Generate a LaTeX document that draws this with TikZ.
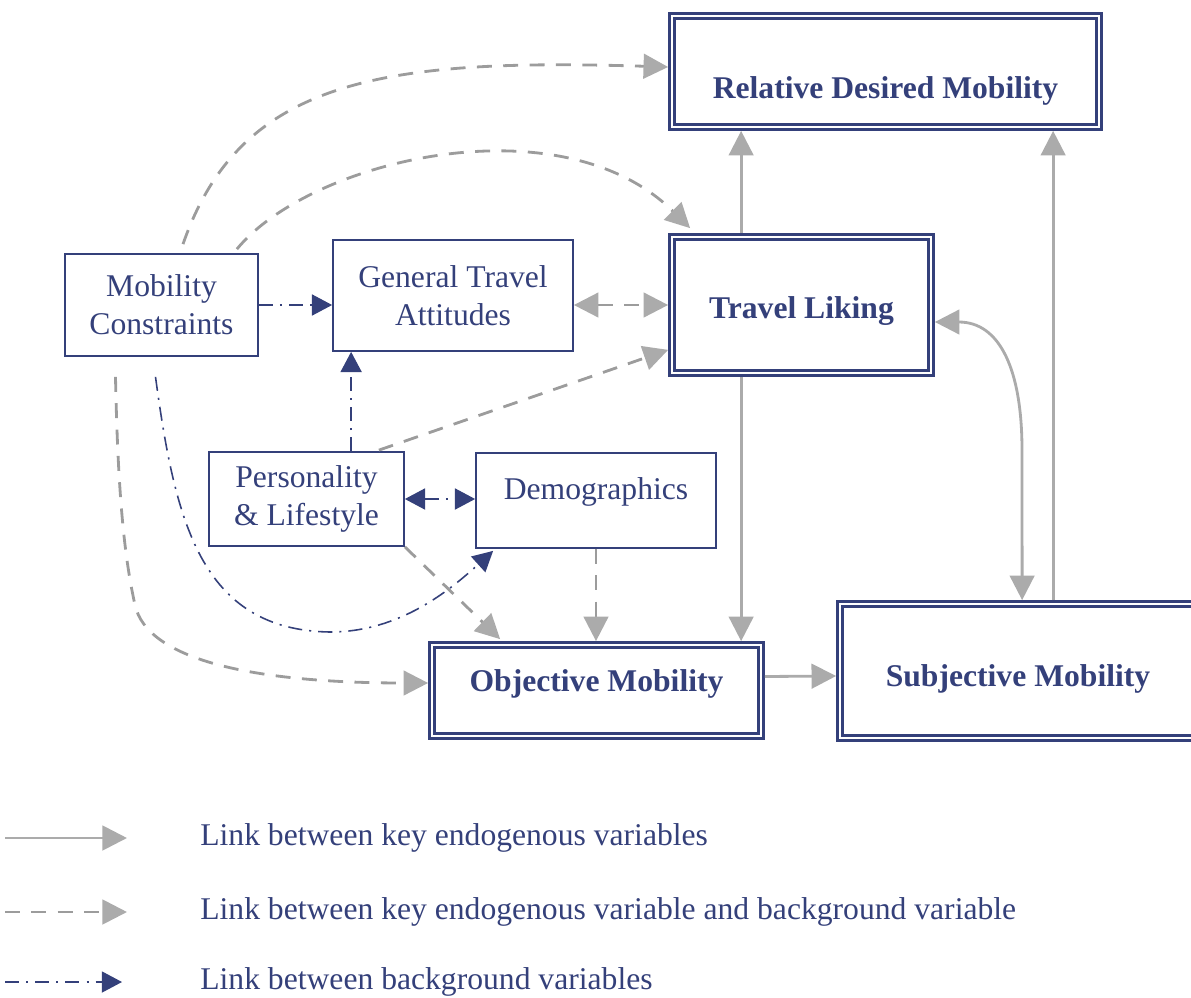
\documentclass[tikz,border=0pt]{standalone}
\usepackage{fontspec}
\setmainfont{Liberation Serif}
\usetikzlibrary{arrows.meta, calc}
\definecolor{navy}{HTML}{34407A}
\definecolor{keygray}{HTML}{ABABAB}
\definecolor{dashgray}{HTML}{9C9C9C}

\begin{document}
\begin{tikzpicture}[x=0.02cm, y=-0.02cm]
     % Define styles
     \tikzstyle{sbox} = [draw=navy, line width=1pt, inner sep=0pt, align=center, text=navy, font=\fontsize{18}{21.5}\selectfont]
     \tikzstyle{dbox} = [draw=navy, line width=1.3pt, double=white, double distance=1.6pt, outer sep=2.2pt, inner sep=0pt, text=navy, font=\fontsize{18}{21.5}\selectfont\bfseries]
     \tikzstyle{keylink} = [keygray, line width=1.6pt, >={Triangle[length=14pt, width=14pt]}, ->]
     \tikzstyle{mixlink} = [dashgray, line width=1.6pt, dash pattern=on 8.5pt off 6.5pt, >={Triangle[length=14pt, width=14pt, color=keygray]}, ->]
     \tikzstyle{bglink} = [navy, line width=0.9pt, dash pattern=on 8pt off 4pt on 1.2pt off 4pt, >={Triangle[length=11.5pt, width=12pt]}, ->]
     \tikzstyle{legendtext} = [text=navy, inner sep=0pt, font=\fontsize{18}{21.5}\selectfont]

     \useasboundingbox (0,0) rectangle (1191,998);
     \clip (0,0) rectangle (1191,998);

     % Key endogenous variables
     \node[dbox, minimum width=427*0.02cm, minimum height=111*0.02cm, text height=34.8pt, text depth=4pt] (RDM) at (885.5,71.5) {Relative Desired Mobility};
     \node[dbox, minimum width=259*0.02cm, minimum height=136*0.02cm, text height=19.4pt, text depth=4pt] (TL) at (801.5,305) {Travel Liking};
     \node[dbox, minimum width=329*0.02cm, minimum height=91*0.02cm, text height=13pt, text depth=11.8pt] (OM) at (596.5,690.5) {Objective Mobility};
     \node[dbox, minimum width=356*0.02cm, minimum height=134*0.02cm, text height=21.6pt, text depth=4pt] (SM) at (1018,671) {Subjective Mobility};

     % Background variables
     \node[sbox, minimum width=193*0.02cm, minimum height=102*0.02cm] (MC) at (161.5,305) {Mobility\\Constraints};
     \node[sbox, minimum width=240*0.02cm, minimum height=111*0.02cm] (GTA) at (453,295.5) {General Travel\\Attitudes};
     \node[sbox, minimum width=195*0.02cm, minimum height=94*0.02cm] (PL) at (306.5,499) {Personality\\\& Lifestyle};
     \node[sbox, minimum width=240*0.02cm, minimum height=95*0.02cm, text height=13pt, text depth=14pt] (DEM) at (596,500.5) {Demographics};

     % Links between key endogenous variables
     \draw[keylink] ($(TL.north west)+(73,0)$) -- ($(RDM.south west)+(73,0)$);
     \draw[keylink] ($(SM.north west)+(217,0)$) -- ($(RDM.south west)+(385,0)$);
     \draw[keylink] ($(TL.south west)+(73,0)$) -- ($(OM.north west)+(313,0)$);
     \draw[keylink] ($(OM.east)+(0,-14)$) -- ($(SM.west)+(0,5)$);
     \draw[keylink, <->] ($(TL.east)+(0,17)$) .. controls (1000,322) and (1022,370) .. (1022,450) -- ($(SM.north west)+(186,0)$);

     % Links between key endogenous and background variables
     \draw[mixlink] ($(MC.north)+(21.5,-9)$) .. controls (240,80) and (380,58) .. ($(RDM.west)+(0,-4.5)$);
     \draw[mixlink] ($(MC.north east)+(-22,-4)$) .. controls (310,160) and (560,100) .. ($(TL.north west)+(22,-5)$);
     \draw[mixlink, <->] (GTA.east |- TL.west) -- (TL.west);
     \draw[mixlink] ($(PL.north east)+(-26,-1)$) -- ($(TL.south west)+(0,-27)$);
     \draw[mixlink] (PL.south east) -- ($(OM.north west)+(72,-2)$);
     \draw[mixlink] (DEM.south) -- (DEM.south |- OM.north);
     \draw[mixlink] ($(MC.south)+(-46,20)$) .. controls (118,500) and (125,560) .. (135,605) .. controls (147,659) and (250,683) .. ($(OM.west)+(0,-7.5)$);

     % Links between background variables
     \draw[bglink] (MC.east) -- (MC.east -| GTA.west);
     \draw[bglink] ($(PL.north west)+(143,0)$) -- ($(GTA.south west)+(19,0)$);
     \draw[bglink, <->] (PL.east) -- (PL.east -| DEM.west);
     \draw[bglink] ($(MC.south)+(-6,20)$) .. controls (175,520) and (200,630) .. (330,632) .. controls (400,632) and (450,590) .. ($(DEM.south west)+(18,2)$);

     % Legend
     \coordinate (keyA) at (5,838);
     \coordinate (keyB) at (127,838);
     \draw[keylink] (keyA) -- (keyB);
     \node[legendtext, anchor=west] (keytext) at (200,838) {Link between key endogenous variables};

     \coordinate (mixA) at (5,912);
     \coordinate (mixB) at (127,912);
     \draw[mixlink] (mixA) -- (mixB);
     \node[legendtext, anchor=west] (mixtext) at (200,912) {Link between key endogenous variable and background variable};

     \coordinate (bgA) at (5,982);
     \coordinate (bgB) at (122,982);
     \draw[bglink] (bgA) -- (bgB);
     \node[legendtext, anchor=west] (bgtext) at (200,982) {Link between background variables};

\end{tikzpicture}
\end{document}
